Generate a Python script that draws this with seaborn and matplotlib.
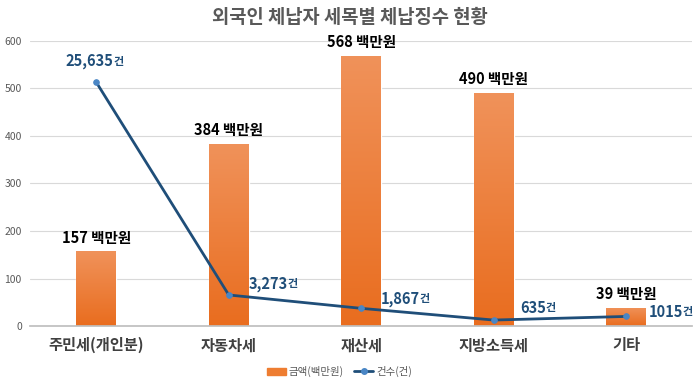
import seaborn as sns
import matplotlib.pyplot as plt
import matplotlib.lines as mlines
import matplotlib.patches as mpatches
from matplotlib.colors import LinearSegmentedColormap
import numpy as np
import pandas as pd

categories = ["주민세(개인분)", "자동차세", "재산세", "지방소득세", "기타"]
amounts = [157, 384, 568, 490, 39]           # 백만원
counts = [25635, 3273, 1867, 635, 1015]      # 건
count_labels = ["25,635", "3,273", "1,867", "635", "1015"]

BAR_COLOR = "#EE7D31"
LINE_COLOR = "#1F4E79"
MARKER_COLOR = "#4A86C5"

df = pd.DataFrame({"cat": categories, "amount": amounts, "count": counts})

sns.set_theme(style="whitegrid")
plt.rcParams["font.family"] = ["Noto Sans CJK KR", "DejaVu Sans"]

fig = plt.figure(figsize=(7, 3.85), dpi=100)
ax = fig.add_axes([0.043, 0.153, 0.946, 0.741])

sns.barplot(data=df, x="cat", y="amount", color=BAR_COLOR, width=0.3,
            saturation=1, ax=ax, zorder=2)
ax.set_ylim(0, 600)
ax.set_yticks(range(0, 601, 100))
ax.set_xlim(-0.5, len(categories) - 0.5)

# soft vertical gradient on bars (lighter top, darker bottom)
grad_cmap = LinearSegmentedColormap.from_list("g", ["#E96D1F", "#F0925A"])
for bar in ax.patches:
    x0, y0 = bar.get_x(), bar.get_y()
    w, h = bar.get_width(), bar.get_height()
    img = ax.imshow(np.linspace(0, 1, 100).reshape(-1, 1), cmap=grad_cmap,
                    extent=[x0, x0 + w, y0, y0 + h], origin="lower",
                    aspect="auto", zorder=2.5)
    img.set_clip_path(bar)
ax.set_xlim(-0.5, len(categories) - 0.5)
ax.set_ylim(0, 600)

ax.grid(axis="y", color="#D9D9D9", linewidth=0.8)
ax.grid(axis="x", visible=False)
for s in ["top", "right", "left"]:
    ax.spines[s].set_visible(False)
ax.spines["bottom"].set_color("#BFBFBF")
ax.set_xlabel("")
ax.set_ylabel("")
ax.tick_params(axis="y", labelsize=7.5, labelcolor="#595959", length=0, pad=6)
ax.tick_params(axis="x", labelsize=11, labelcolor="#404040", length=0, pad=8)
for lbl in ax.get_xticklabels():
    lbl.set_fontweight("bold")
ax.set_xticks([i + 0.5 for i in range(len(categories) - 1)], minor=True)
ax.tick_params(axis="x", which="minor", length=4, color="#BFBFBF", width=0.8)

for i, v in enumerate(amounts):
    ax.text(i, v + 12, f"{v} 백만원", ha="center", va="bottom",
            fontsize=10.5, fontweight="bold", color="black")

ax2 = ax.twinx()
sns.lineplot(data=df, x="cat", y="count", ax=ax2, color=LINE_COLOR,
             linewidth=2.0, marker="o", markersize=4,
             markerfacecolor=MARKER_COLOR, markeredgecolor=MARKER_COLOR, zorder=3)
ax2.set_ylim(0, 30000)
ax2.axis("off")
ax2.set_xlim(-0.5, len(categories) - 0.5)

offsets = [(-5, 15, "center"), (14, 8, "left"), (14, 7, "left"), (19, 9, "left"), (16, 3, "left")]
for i, (c, lab) in enumerate(zip(counts, count_labels)):
    dx, dy, ha = offsets[i]
    t = ax2.annotate(lab, xy=(i, c), xytext=(dx, dy), textcoords="offset points",
                     ha=ha, va="center", fontsize=10.5, fontweight="bold",
                     color="#1F4E79")
    ax2.annotate("건", xy=(1, 0.12), xycoords=t, ha="left", va="bottom",
                 fontsize=8, fontweight="bold", color="#1F4E79")

fig.text(0.5, 0.955, "외국인 체납자 세목별 체납징수 현황", ha="center", va="center",
         fontsize=13.5, fontweight="bold", color="#595959")

h1 = mpatches.Patch(color=BAR_COLOR, label="금액(백만원)")
h2 = mlines.Line2D([], [], color=LINE_COLOR, linewidth=2, marker="o",
                   markersize=4, markerfacecolor=MARKER_COLOR,
                   markeredgecolor=MARKER_COLOR, label="건수(건)")
fig.legend(handles=[h1, h2], loc="center", bbox_to_anchor=(0.485, 0.035), ncol=2,
           frameon=False, fontsize=7.5, labelcolor="#595959", handlelength=1.8,
           handletextpad=0.3, columnspacing=1.0)

fig.savefig("out.png", dpi=100)
